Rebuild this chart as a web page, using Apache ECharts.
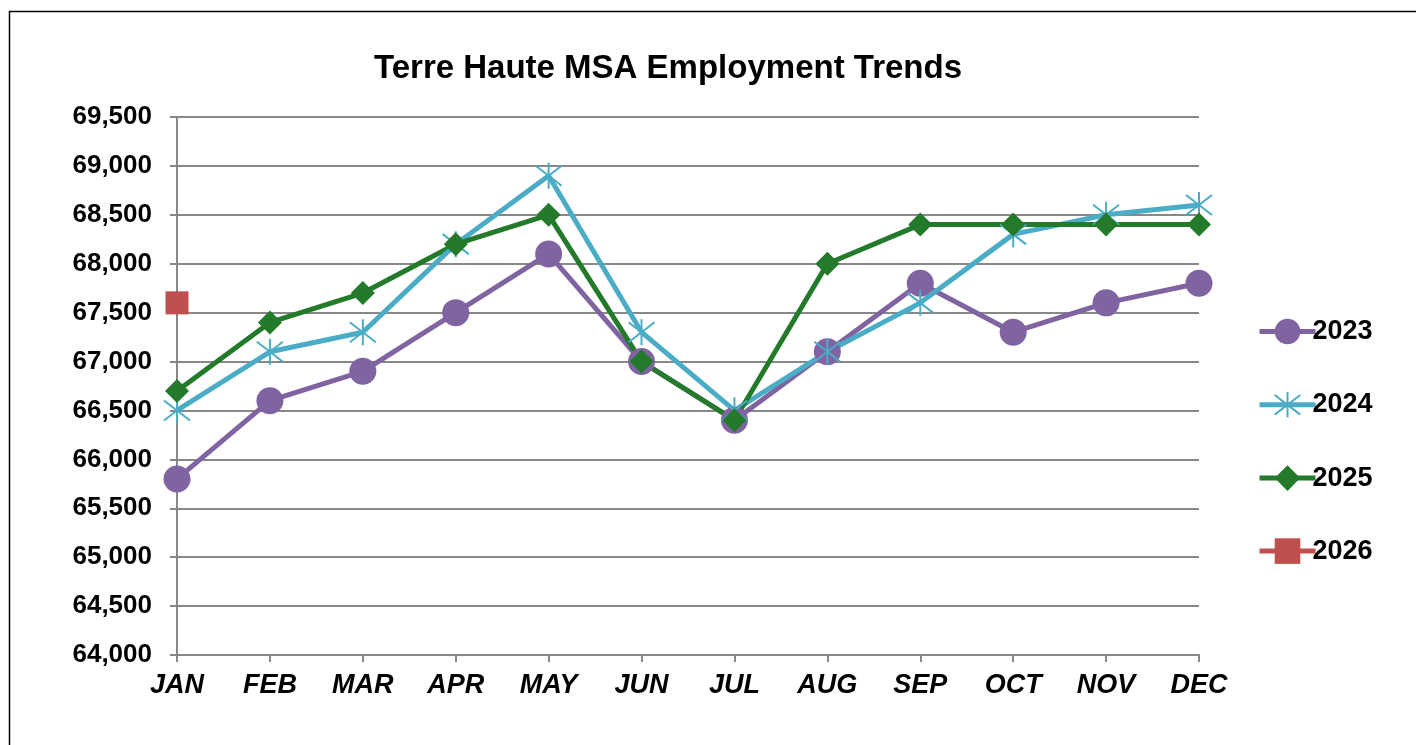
<!DOCTYPE html>
<html>
<head>
<meta charset="utf-8">
<script src="https://cdn.jsdelivr.net/npm/echarts@6/dist/echarts.min.js"></script>
<style>
html,body{margin:0;padding:0;background:#fff;}
#chart{width:1416px;height:745px;}
</style>
</head>
<body>
<div id="chart"></div>
<script>
// months along the x axis
var months = ['JAN','FEB','MAR','APR','MAY','JUN','JUL','AUG','SEP','OCT','NOV','DEC'];
// employment per year
var emp2023 = [65800,66600,66900,67500,68100,67000,66400,67100,67800,67300,67600,67800];
var emp2024 = [66500,67100,67300,68200,68900,67300,66500,67100,67600,68300,68500,68600];
var emp2025 = [66700,67400,67700,68200,68500,67000,66400,68000,68400,68400,68400,68400];
var emp2026 = [67600];

var starPath = 'path://M0,0L20,20M20,0L0,20M10,-3L10,23';

var myChart = echarts.init(document.getElementById('chart'));
var option = {
	animation: false,
	title: {
		text: 'Terre Haute MSA Employment Trends',
		left: 663,
		top: 47,
		textAlign: 'center',
		textStyle: {fontFamily: 'Liberation Sans, Arial', fontSize: 33, fontWeight: 'bold', color: '#000'}
	},
	graphic: [{
		type: 'rect',
		shape: {x: 9.5, y: 11.5, width: 1420, height: 760},
		style: {fill: 'none', stroke: '#000', lineWidth: 1.5}
	}],
	grid: {left: 177, right: 217, top: 117, bottom: 90},
	legend: {
		orient: 'vertical',
		left: 1252,
		top: 313,
		itemGap: 41,
		itemWidth: 56,
		itemHeight: 32,
		lineStyle: {width: 5},
		textStyle: {fontFamily: 'Liberation Sans, Arial', fontSize: 27, fontWeight: 'bold', color: '#000', padding: [0,0,0,-8]},
		data: ['2023','2024','2025','2026']
	},
	xAxis: {
		type: 'category',
		boundaryGap: false,
		data: months,
		axisLine: {lineStyle: {color: '#888', width: 2}},
		axisTick: {show: true, length: 7, lineStyle: {color: '#888', width: 2}},
		axisLabel: {fontFamily: 'Liberation Sans, Arial', fontSize: 27, fontWeight: 'bold', fontStyle: 'italic', color: '#000', margin: 17}
	},
	yAxis: {
		type: 'value',
		min: 64000,
		max: 69500,
		interval: 500,
		axisLine: {show: true, lineStyle: {color: '#888', width: 2}},
		axisTick: {show: true, length: 7, lineStyle: {color: '#888', width: 2}},
		splitLine: {lineStyle: {color: '#888', width: 2}},
		axisLabel: {
			fontFamily: 'Liberation Sans, Arial', fontSize: 26, fontWeight: 'bold', color: '#000', margin: 25,
			formatter: function(v){ return v.toLocaleString('en-US'); }
		}
	},
	series: [{
		name: '2023', type: 'line', data: emp2023,
		symbol: 'circle', symbolSize: 27,
		itemStyle: {color: '#8064A2'},
		lineStyle: {color: '#8064A2', width: 5}
	}, {
		name: '2024', type: 'line', data: emp2024,
		symbol: starPath, symbolSize: 26,
		itemStyle: {color: 'rgba(0,0,0,0)', borderColor: '#4BACC6', borderWidth: 2},
		lineStyle: {color: '#4BACC6', width: 5}
	}, {
		name: '2025', type: 'line', data: emp2025,
		symbol: 'diamond', symbolSize: 24,
		itemStyle: {color: '#237A2A'},
		lineStyle: {color: '#237A2A', width: 5}
	}, {
		name: '2026', type: 'line', data: emp2026,
		symbol: 'rect', symbolSize: 23,
		itemStyle: {color: '#C0504D'},
		lineStyle: {color: '#C0504D', width: 5}
	}]
};
option.legend.itemGap = 46;
myChart.setOption(option);
</script>
</body>
</html>
